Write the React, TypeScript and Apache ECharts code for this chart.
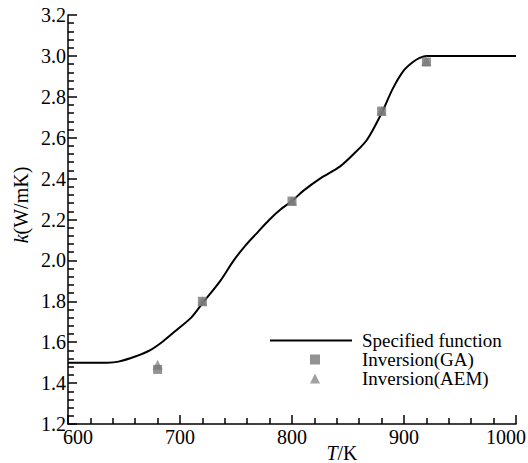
import React, { useEffect, useRef } from "react";
import * as echarts from "echarts";

const curveT = [600, 620, 635, 645, 660, 673, 685, 697, 710, 720, 736, 748, 758, 768, 780, 790, 800, 810, 825, 843, 855, 867, 880, 890, 900, 908, 914, 920, 1000];
const curveK = [1.5, 1.5, 1.5, 1.505, 1.53, 1.56, 1.605, 1.66, 1.72, 1.79, 1.9, 2.0, 2.07, 2.13, 2.2, 2.25, 2.29, 2.34, 2.4, 2.46, 2.52, 2.59, 2.72, 2.84, 2.93, 2.97, 2.99, 3.0, 3.0];

const gaT = [680, 720, 800, 880, 920];
const gaK = [1.467, 1.8, 2.29, 2.73, 2.97];

const aemT = [680, 720, 800, 880, 920];
const aemK = [1.49, 1.8, 2.29, 2.73, 2.975];

const FONT = "'Times New Roman', 'Liberation Serif', serif";

export default function App() {
  const ref = useRef<HTMLDivElement>(null);
  useEffect(() => {
    if (!ref.current) return;
    const chart = echarts.init(ref.current, undefined, { renderer: "svg" });
    const legendText = { fontFamily: FONT, fontSize: 19, color: "#000", lineHeight: 19 };
    const lbl = { fontFamily: FONT, fontSize: 20, color: "#000" };
    chart.setOption({
      animation: false,
      textStyle: { fontFamily: FONT },
      grid: { left: 68, right: 12, top: 15, bottom: 39, outerBoundsMode: "none", containLabel: false },
      legend: [
        {
          orient: "vertical",
          left: 270,
          top: 331,
          padding: 0,
          itemWidth: 82,
          itemHeight: 2,
          itemGap: 0,
          textStyle: { ...legendText, padding: [0, 0, 0, 5] },
          data: [{ name: "Specified function", icon: "rect", itemStyle: { color: "#000" } }],
        },
        {
          orient: "vertical",
          left: 310,
          top: 350,
          padding: 0,
          itemWidth: 10,
          itemHeight: 10,
          itemGap: 0,
          textStyle: { ...legendText, padding: [0, 0, 0, 37] },
          data: [
            { name: "Inversion(GA)", icon: "rect", itemStyle: { color: "#777" } },
            { name: "Inversion(AEM)", icon: "triangle", itemStyle: { color: "#888" } },
          ],
        },
      ],
      xAxis: {
        type: "value",
        min: 600,
        max: 1000,
        interval: 100,
        name: "{i|T}/K",
        nameLocation: "middle",
        nameGap: 20,
        nameMoveOverlap: false,
        nameTextStyle: {
          ...lbl,
          lineHeight: 18,
          padding: [0, 0, 0, 100],
          rich: { i: { ...lbl, lineHeight: 18, fontStyle: "italic" } },
        },
        axisLine: { lineStyle: { color: "#000", width: 1.5 } },
        axisTick: { inside: true, length: 9, lineStyle: { color: "#000", width: 1.5 } },
        minorTick: { show: true, splitNumber: 5, length: 6, lineStyle: { color: "#000", width: 1.5 } },
        splitLine: { show: false },
        axisLabel: {
          ...lbl,
          margin: 3,
          formatter: (v: number) => (v === 600 ? `{min|${v}}` : v === 1000 ? `{max|${v}}` : String(v)),
          rich: {
            min: { ...lbl, padding: [0, 0, 0, 20] },
            max: { ...lbl, padding: [0, 20, 0, 0] },
          },
        },
      },
      yAxis: {
        type: "value",
        min: 1.2,
        max: 3.2,
        interval: 0.2,
        name: "{i|k}(W/mK)",
        nameLocation: "middle",
        nameGap: 37,
        nameMoveOverlap: false,
        nameTextStyle: {
          ...lbl,
          padding: [0, 0, 0, 29],
          rich: { i: { ...lbl, fontStyle: "italic" } },
        },
        axisLine: { show: true, lineStyle: { color: "#000", width: 1.5 } },
        axisTick: { show: true, inside: true, length: 9, lineStyle: { color: "#000", width: 1.5 } },
        minorTick: { show: true, splitNumber: 5, length: 6, lineStyle: { color: "#000", width: 1.5 } },
        splitLine: { show: false },
        axisLabel: { ...lbl, margin: 2, formatter: (v: number) => v.toFixed(1) },
      },
      series: [
        {
          name: "Specified function",
          type: "line",
          data: curveT.map((t, i) => [t, curveK[i]]),
          showSymbol: false,
          symbol: "none",
          smooth: 0.3,
          lineStyle: { color: "#000", width: 2 },
          itemStyle: { color: "#000" },
          z: 2,
        },
        {
          name: "Inversion(AEM)",
          type: "scatter",
          data: aemT.map((t, i) => [t, aemK[i]]),
          symbol: "triangle",
          symbolSize: 10,
          itemStyle: { color: "#888" },
          z: 3,
        },
        {
          name: "Inversion(GA)",
          type: "scatter",
          data: gaT.map((t, i) => [t, gaK[i]]),
          symbol: "rect",
          symbolSize: 9,
          itemStyle: { color: "#777" },
          z: 4,
        },
      ],
    });
    return () => chart.dispose();
  }, []);
  return <div ref={ref} style={{ width: 528, height: 463, position: "absolute", left: 0, top: 0 }} />;
}
